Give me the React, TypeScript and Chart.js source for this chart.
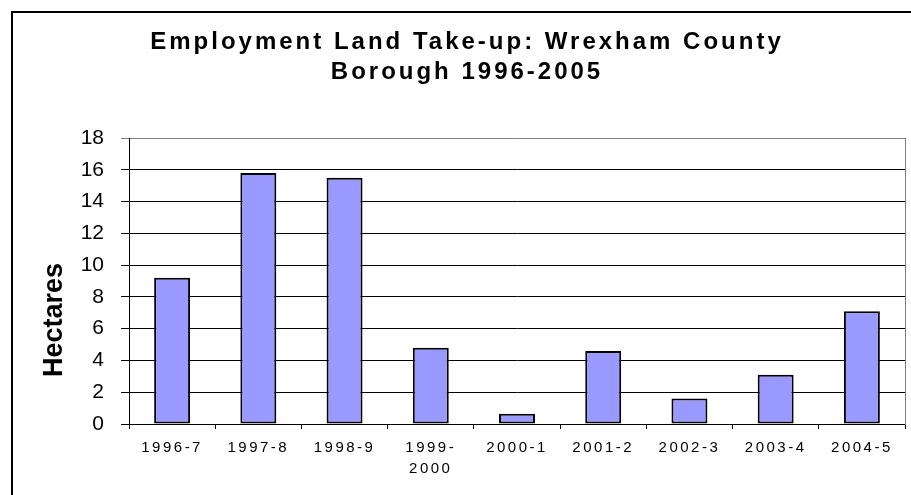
import React, { useEffect, useRef } from 'react';
import { Chart, registerables } from 'chart.js';

Chart.register(...registerables);

// ---- data ----
const categories: (string | string[])[] = [
  '1996-7',
  '1997-8',
  '1998-9',
  ['1999-', '2000'],
  '2000-1',
  '2001-2',
  '2002-3',
  '2003-4',
  '2004-5',
];
const hectares: number[] = [9.2, 15.8, 15.5, 4.8, 0.65, 4.6, 1.6, 3.1, 7.1];
const yMin = 0;
const yMax = 18;
const yStep = 2;
const titleLines: string[] = ['Employment Land Take-up: Wrexham County', 'Borough 1996-2005'];
const yTitle = 'Hectares';

const FONT = 'Arial, "Liberation Sans", sans-serif';

const CANVAS_W = 908;
const CANVAS_H = 482;

const yTitlePlugin = {
  id: 'yTitleText',
  afterDraw(chart: any) {
    const { ctx, chartArea } = chart;
    ctx.save();
    ctx.font = `bold 27px ${FONT}`;
    ctx.fillStyle = '#000';
    ctx.textAlign = 'center';
    ctx.textBaseline = 'middle';
    ctx.translate(chartArea.left - 74, chartArea.bottom - 104);
    ctx.rotate(-Math.PI / 2);
    ctx.fillText(yTitle, 0, 0);
    ctx.restore();
  },
};

function spacingFor(font: string): string {
  if (font.includes('24px')) return '3px';
  if (font.includes('15px')) return '2.5px';
  return '0px';
}

export default function App() {
  const ref = useRef<HTMLCanvasElement | null>(null);

  useEffect(() => {
    const canvas = ref.current;
    if (!canvas) return;
    const ctx: any = canvas.getContext('2d');
    const origFill = ctx.fillText.bind(ctx);
    const origMeasure = ctx.measureText.bind(ctx);
    ctx.fillText = (t: string, x: number, y: number, mw?: number) => {
      const prev = ctx.letterSpacing;
      ctx.letterSpacing = spacingFor(ctx.font);
      if (mw === undefined) origFill(t, x, y);
      else origFill(t, x, y, mw);
      ctx.letterSpacing = prev;
    };
    ctx.measureText = (t: string) => {
      const prev = ctx.letterSpacing;
      ctx.letterSpacing = spacingFor(ctx.font);
      const m = origMeasure(t);
      ctx.letterSpacing = prev;
      return m;
    };

    const chart = new Chart(ctx, {
      type: 'bar',
      data: {
        labels: categories,
        datasets: [
          {
            data: hectares,
            backgroundColor: '#9999FF',
            borderColor: '#000000',
            borderWidth: 2,
            borderSkipped: false,
            categoryPercentage: 1,
            barPercentage: 0.417,
          },
        ],
      },
      options: {
        responsive: false,
        animation: false,
        devicePixelRatio: 1,
        layout: { padding: { left: 16, right: 16, top: 0, bottom: 0 } },
        plugins: {
          legend: { display: false },
          tooltip: { enabled: false },
          title: {
            display: true,
            text: titleLines,
            color: '#000',
            font: { family: FONT, size: 24, weight: 'bold', lineHeight: 1.25 },
            padding: { top: 14, bottom: 51 },
          },
        },
        scales: {
          x: {
            grid: {
              offset: true,
              drawOnChartArea: false,
              drawTicks: true,
              tickLength: 5,
              color: '#000',
            },
            border: { display: true, color: '#000', width: 1 },
            ticks: {
              color: '#000',
              autoSkip: false,
              maxRotation: 0,
              minRotation: 0,
              padding: 8,
              font: { family: FONT, size: 15, lineHeight: 1.4 },
            },
            afterFit: (s: any) => {
              s.height = 71;
            },
          },
          y: {
            min: yMin,
            max: yMax,
            ticks: {
              stepSize: yStep,
              color: '#000',
              padding: 17,
              font: { family: FONT, size: 21 },
            },
            grid: {
              color: (c: any) => (c.tick && c.tick.value === yMax ? '#808080' : '#000'),
              tickLength: 8,
              lineWidth: 1,
            },
            border: { display: true, color: '#000', width: 1 },
            afterFit: (s: any) => {
              s.width = 100;
            },
          },
          y2: {
            position: 'right',
            min: yMin,
            max: yMax,
            ticks: { display: false },
            grid: { drawOnChartArea: false, drawTicks: false },
            border: { display: true, color: '#808080', width: 1 },
            afterFit: (s: any) => {
              s.width = 0;
            },
          },
        },
      },
      plugins: [yTitlePlugin],
    });

    return () => {
      chart.destroy();
    };
  }, []);

  return (
    <div
      style={{
        position: 'fixed',
        left: 0,
        top: 0,
        width: 911,
        height: 495,
        overflow: 'hidden',
        background: '#fff',
      }}
    >
      <div
        style={{
          position: 'absolute',
          left: 11,
          top: 11,
          width: 940,
          height: 520,
          borderLeft: '2px solid #000',
          borderTop: '2px solid #000',
          boxSizing: 'content-box',
        }}
      >
        <canvas
          ref={ref}
          width={CANVAS_W}
          height={CANVAS_H}
          style={{ position: 'absolute', left: 0, top: 0, width: CANVAS_W, height: CANVAS_H, display: 'block' }}
        />
      </div>
    </div>
  );
}
